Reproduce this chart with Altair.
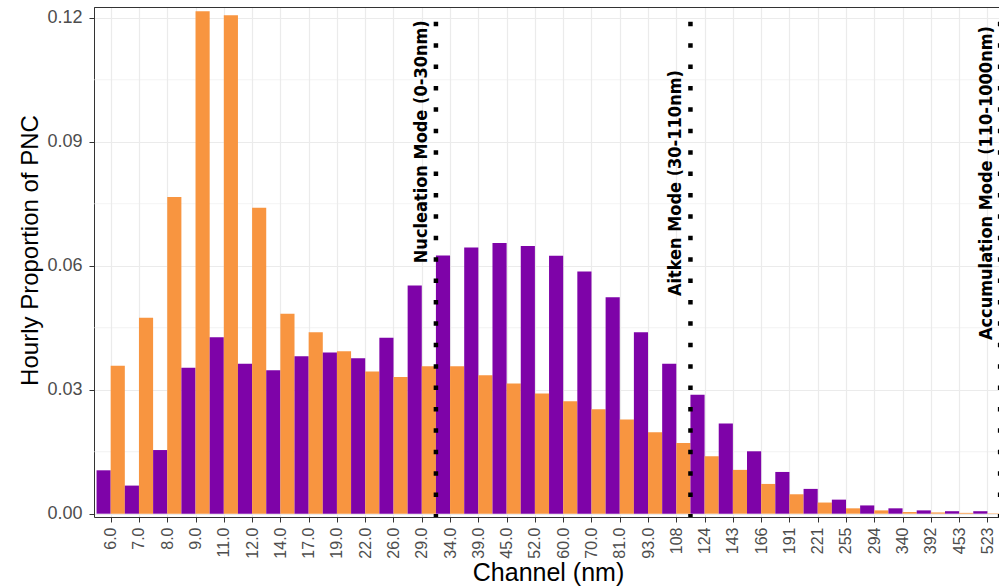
import altair as alt
import pandas as pd

# ---- data ----
channels = ["6.0", "7.0", "8.0", "9.0", "11.0", "12.0", "14.0", "17.0", "19.0", "22.0",
            "26.0", "29.0", "34.0", "39.0", "45.0", "52.0", "60.0", "70.0", "81.0", "93.0",
            "108", "124", "143", "166", "191", "221", "255", "294", "340", "392", "453", "523"]
purple_vals = [0.0105, 0.0068, 0.0154, 0.0353, 0.0427, 0.0363, 0.0347, 0.0381, 0.0390, 0.0376,
               0.0426, 0.0552, 0.0625, 0.0644, 0.0655, 0.0648, 0.0624, 0.0586, 0.0524, 0.0439,
               0.0363, 0.0288, 0.0218, 0.0151, 0.0101, 0.0060, 0.0034, 0.0020, 0.0013, 0.0008,
               0.0006, 0.0006]
orange_vals = [0.0358, 0.0474, 0.0766, 0.1216, 0.1206, 0.0740, 0.0484, 0.0439, 0.0393, 0.0344,
               0.0331, 0.0357, 0.0357, 0.0335, 0.0315, 0.0291, 0.0272, 0.0253, 0.0228, 0.0197,
               0.0171, 0.0139, 0.0106, 0.0072, 0.0047, 0.0027, 0.0013, 0.0008, 0.0004, 0.0003,
               0.0002, 0.0001]
series_names = ["Series A", "Series B"]
series_colors = ["#7E03A8", "#F89540"]
y_ticks = [0.00, 0.03, 0.06, 0.09, 0.12]
y_minor = [0.015, 0.045, 0.075, 0.105]
mode_line_x = [12.5, 21.5, 32.45]
mode_labels = ["Nucleation Mode (0-30nm)", "Aitken Mode (30-110nm)", "Accumulation Mode (110-1000nm)"]
mode_label_x = [12, 21, 32]
mode_label_y = [0.09, 0.08, 0.08]

rows = []
for i, ch in enumerate(channels):
    rows.append(dict(idx=i + 1, channel=ch, series=series_names[0], slot=0, value=purple_vals[i]))
    rows.append(dict(idx=i + 1, channel=ch, series=series_names[1], slot=1, value=orange_vals[i]))
bars_df = pd.DataFrame(rows)
lines_df = pd.DataFrame({"x": mode_line_x})
text_df = pd.DataFrame({"x": mode_label_x, "y": mode_label_y, "label": mode_labels})
minor_df = pd.DataFrame({"v": y_minor})

W, H = 905, 510
x_scale = alt.Scale(domain=[0.41, 32.41], nice=False, zero=False)
y_scale = alt.Scale(domain=[-0.0008, 0.1226], nice=False, zero=False)

FONT = "Liberation Sans, Arial, Helvetica, sans-serif"
label_js = "[" + ",".join("'" + c + "'" for c in channels) + "]"

x_axis = alt.Axis(
    values=list(range(1, len(channels) + 1)),
    labelExpr=label_js + "[datum.value - 1]",
    labelAngle=-90, labelFont=FONT, labelFontSize=16, labelColor="#4D4D4D",
    labelPadding=5, labelFlush=False, labelOverlap=False,
    tickSize=5, tickColor="#333333", tickWidth=1,
    domainColor="#333333", domainWidth=1,
    grid=True, gridColor="#EBEBEB", gridWidth=1.2,
    title="Channel (nm)", titleFont=FONT, titleFontSize=25, titleFontWeight="normal",
    titleColor="black", titleX=454, titleY=63, titleBaseline="alphabetic", titleAlign="center",
)
x_top_axis = alt.Axis(orient="top", labels=False, ticks=False, grid=False, title=None,
                      domainColor="#333333", domainWidth=1)
y_axis = alt.Axis(
    values=y_ticks, format=".2f",
    labelFont=FONT, labelFontSize=18, labelColor="#4D4D4D", labelPadding=7,
    tickSize=5, tickColor="#333333", tickWidth=1,
    domainColor="#333333", domainWidth=1,
    grid=True, gridColor="#EBEBEB", gridWidth=1.2,
    title="Hourly Proportion of PNC", titleFont=FONT, titleFontSize=24, titleFontWeight="normal",
    titleColor="black", titleX=-57, titleY=243, titleBaseline="alphabetic", titleAlign="center",
)

bars = alt.Chart(bars_df).transform_calculate(
    x0="datum.idx - 0.5 + 0.5 * datum.slot",
    x1="datum.idx + 0.5 * datum.slot",
).mark_bar(stroke=None).encode(
    x=alt.X("x0:Q", scale=x_scale, axis=x_axis),
    x2="x1:Q",
    y=alt.Y("value:Q", scale=y_scale, axis=y_axis),
    y2=alt.datum(0),
    color=alt.Color("series:N", scale=alt.Scale(domain=series_names, range=series_colors), legend=None),
)

minor = alt.Chart(minor_df).mark_rule(color="#EBEBEB", strokeWidth=0.6).encode(
    y=alt.Y("v:Q", scale=y_scale, axis=y_axis)
)

vlines = alt.Chart(lines_df).mark_rule(
    color="black", strokeWidth=4.5, strokeDash=[4.5, 16.9], strokeDashOffset=6.65
).encode(x=alt.X("x:Q", scale=x_scale, axis=x_top_axis))

texts = alt.Chart(text_df).mark_text(
    angle=270, align="center", baseline="middle",
    font="Liberation Sans Narrow, DejaVu Sans Condensed, Arial Narrow, sans-serif",
    fontWeight="bold", fontSize=18, color="black",
).encode(
    x=alt.X("x:Q", scale=x_scale, axis=x_top_axis),
    y=alt.Y("y:Q", scale=y_scale, axis=y_axis),
    text="label:N",
)

chart = alt.layer(minor, bars, vlines, texts).resolve_axis(x="independent").properties(
    width=W, height=H,
    padding={"left": 94, "top": 7, "right": 0, "bottom": 71},
    autosize=alt.AutoSizeParams(type="none"),
    background="white",
).configure_view(stroke=None)

chart.save("out.html", embed_options={"renderer": "svg", "actions": False})
